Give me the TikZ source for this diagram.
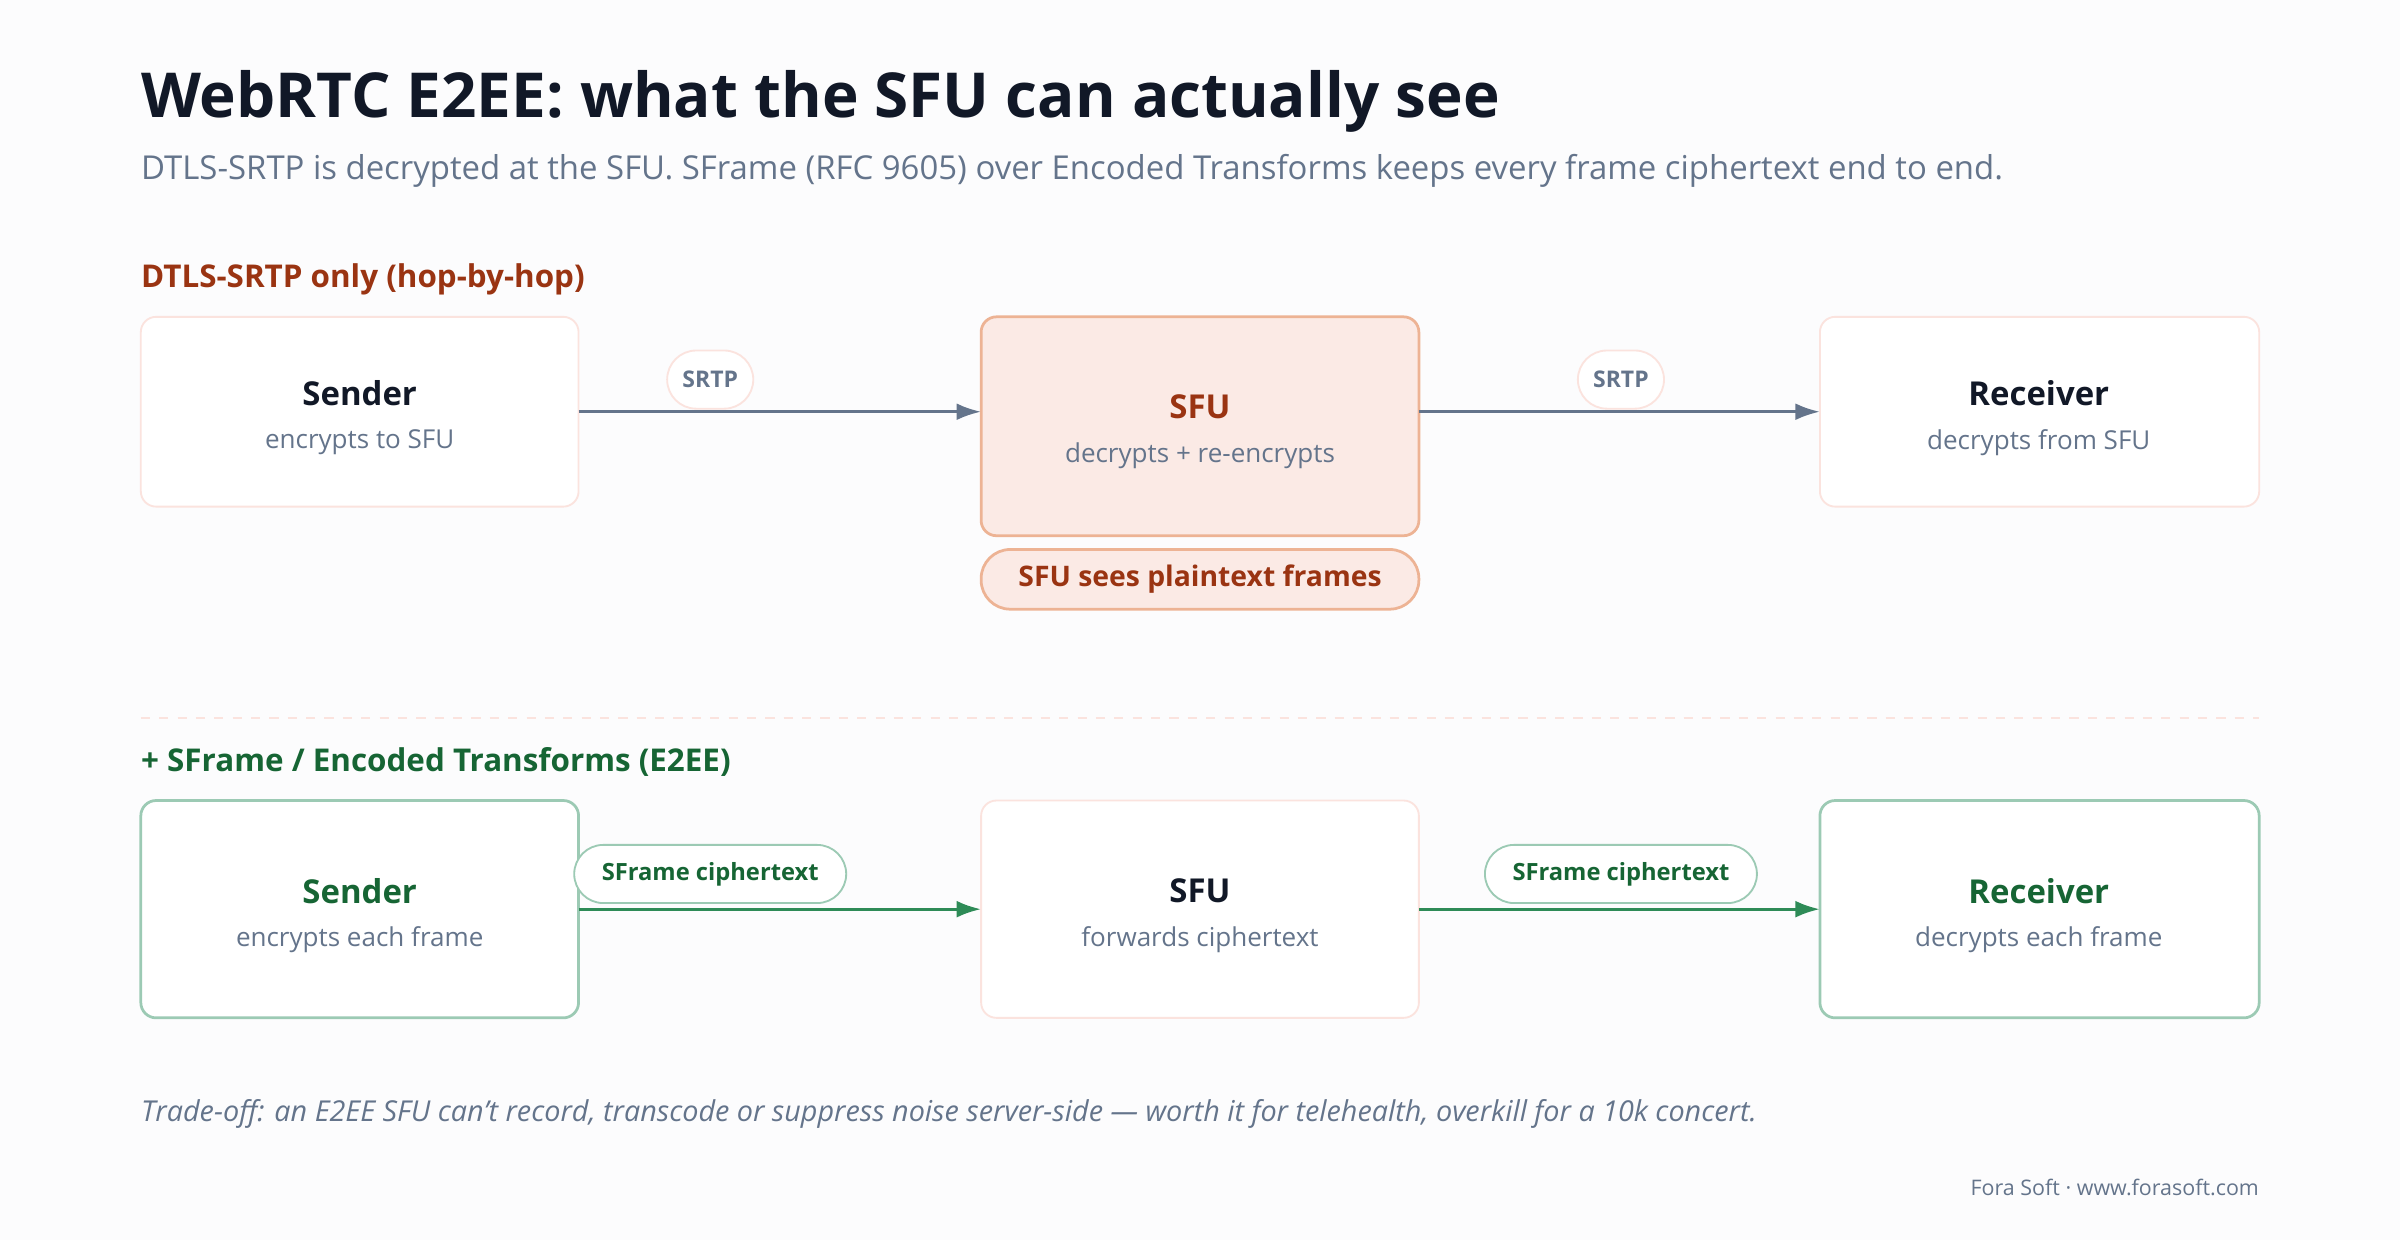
\documentclass[tikz,border=0pt]{standalone}
\usepackage{fontspec}
\setmainfont{Open Sans}
\usetikzlibrary{arrows.meta}
\definecolor{ink}{HTML}{111827}
\definecolor{muted}{HTML}{64748B}
\definecolor{redt}{HTML}{9A3412}
\definecolor{redfill}{HTML}{FBEAE5}
\definecolor{redline}{HTML}{EDB394}
\definecolor{faint}{HTML}{FBE3DE}
\definecolor{greent}{HTML}{166534}
\definecolor{greenline}{HTML}{9CCAB4}
\definecolor{greenarr}{HTML}{2E8B57}
\definecolor{bg}{HTML}{FCFCFD}
\newcommand{\fs}[1]{\fontsize{#1}{#1}\selectfont}
\begin{document}
\begin{tikzpicture}[x=1pt,y=-1pt,
  box/.style={draw=faint,line width=1.2pt,fill=white,rounded corners=10pt},
  gbox/.style={draw=greenline,line width=1.8pt,fill=white,rounded corners=10pt},
  rbox/.style={draw=redline,line width=1.8pt,fill=redfill,rounded corners=10pt},
  ttl/.style={font=\bfseries\fs{21.5},text=ink},
  sub/.style={font=\fs{17},text=muted},
  pill/.style={draw=faint,line width=1.2pt,fill=white,rounded corners=19pt,minimum height=38pt,font=\bfseries\fs{15},text=muted,inner xsep=10pt},
  gpill/.style={draw=greenline,line width=1.2pt,fill=white,rounded corners=19pt,minimum height=38pt,font=\bfseries\fs{15.5},text=greent,inner xsep=18pt},
  arr/.style={-{Latex[length=16pt,width=11pt]},line width=2pt,draw=muted},
  garr/.style={-{Latex[length=16pt,width=11pt]},line width=2pt,draw=greenarr}]
\fill[bg] (0,0) rectangle (1568,810);
\useasboundingbox (0,0) rectangle (1568,810);
\node[anchor=base west,font=\bfseries\fs{40.5},text=ink,inner sep=0] (title) at (92,77) {WebRTC E2EE: what the SFU can actually see};
\node[anchor=base west,font=\fs{21.5},text=muted,inner sep=0] (subtitle) at (92,117) {DTLS-SRTP is decrypted at the SFU. SFrame (RFC 9605) over Encoded Transforms keeps every frame ciphertext end to end.};
\node[anchor=base west,font=\bfseries\fs{20.5},text=redt,inner sep=0] (sec1) at (92,188) {DTLS-SRTP only (hop-by-hop)};
% row 1
\draw[box] (92,207) rectangle (378,331);
\draw[rbox] (641,207) rectangle (927,350);
\draw[box] (1189,207) rectangle (1476,331);
\coordinate (s1) at (378,269); \coordinate (f1l) at (641,269);
\coordinate (f1r) at (927,269); \coordinate (r1) at (1189,269);
\node[ttl] (st1) at (235,257) {Sender};
\node[sub] (ss1) at (235,289) {encrypts to SFU};
\node[ttl,text=redt] (ft1) at (784,266) {SFU};
\node[sub] (fs1) at (784,298) {decrypts + re-encrypts};
\node[ttl] (rt1) at (1332,257) {Receiver};
\node[sub] (rs1) at (1332,289) {decrypts from SFU};
\draw[arr] (s1) -- (f1l);
\draw[arr] (f1r) -- (r1);
\node[pill] (p1) at (464,248) {SRTP};
\node[pill] (p2) at (1059,248) {SRTP};
\node[draw=redline,line width=1.8pt,fill=redfill,rounded corners=19pt,minimum width=286pt,minimum height=39pt,font=\bfseries\fs{18.5},text=redt] (plain) at (784,378.5) {SFU sees plaintext frames};
\draw[faint,line width=1.2pt,dash pattern=on 6pt off 6pt] (92,469) -- (1476,469);
\node[anchor=base west,font=\bfseries\fs{20.5},text=greent,inner sep=0] (sec2) at (92,504) {+ SFrame / Encoded Transforms (E2EE)};
% row 2
\draw[gbox] (92,523) rectangle (378,665);
\draw[box] (641,523) rectangle (927,665);
\draw[gbox] (1189,523) rectangle (1476,665);
\coordinate (s2) at (378,594); \coordinate (f2l) at (641,594);
\coordinate (f2r) at (927,594); \coordinate (r2) at (1189,594);
\node[ttl,text=greent] (st2) at (235,582) {Sender};
\node[sub] (ss2) at (235,614) {encrypts each frame};
\node[ttl] (ft2) at (784,582) {SFU};
\node[sub] (fs2) at (784,614) {forwards ciphertext};
\node[ttl,text=greent] (rt2) at (1332,582) {Receiver};
\node[sub] (rs2) at (1332,614) {decrypts each frame};
\draw[garr] (s2) -- (f2l);
\draw[garr] (f2r) -- (r2);
\node[gpill] (p3) at (464,571) {SFrame ciphertext};
\node[gpill] (p4) at (1059,571) {SFrame ciphertext};
\node[anchor=base west,font=\itshape\fs{18.8},text=muted,inner sep=0] (foot) at (92,733) {Trade-off: an E2EE SFU can't record, transcode or suppress noise server-side — worth it for telehealth, overkill for a 10k concert.};
\node[anchor=base east,font=\fs{14},text=muted,inner sep=0] (brand) at (1476,781) {Fora Soft · www.forasoft.com};
\end{tikzpicture}
\end{document}
